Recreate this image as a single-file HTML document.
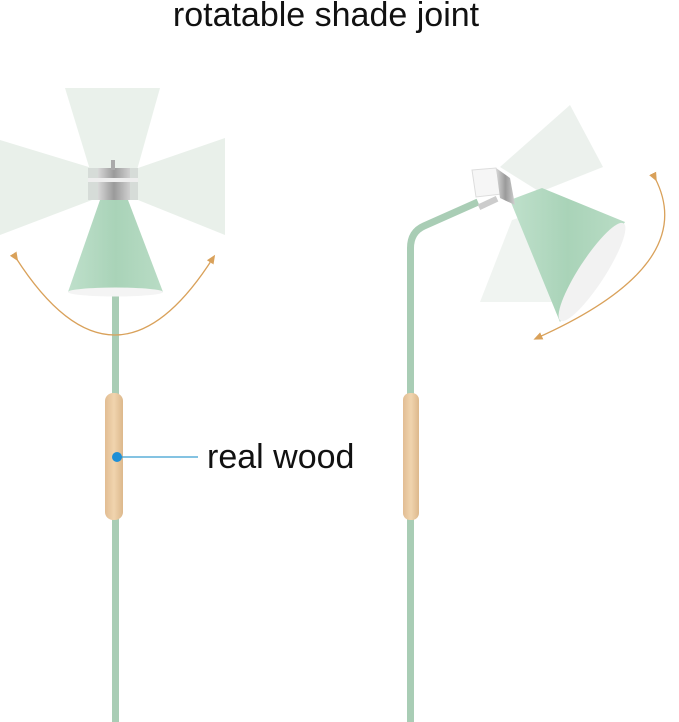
<!DOCTYPE html>
<html><head><style>
html,body{margin:0;padding:0;background:#fff;width:679px;height:722px;overflow:hidden}
svg{display:block}
text{font-family:"Liberation Sans",sans-serif;fill:#111}
</style></head><body>
<svg width="679" height="722" viewBox="0 0 679 722">
<defs>
<marker id="ah" markerWidth="8" markerHeight="8" refX="4" refY="4" orient="auto">
<path d="M0,1 L7,4 L0,7 Z" fill="#d9a15a"/></marker>
<linearGradient id="wood" x1="0" x2="1"><stop offset="0" stop-color="#e2bd93"/><stop offset=".5" stop-color="#f0d4ae"/><stop offset="1" stop-color="#ddb88c"/></linearGradient>
<linearGradient id="green" x1="0" x2="1"><stop offset="0" stop-color="#bfe0cb"/><stop offset=".5" stop-color="#a9d3b8"/><stop offset="1" stop-color="#b9dcc5"/></linearGradient>
<linearGradient id="silver" x1="0" x2="1"><stop offset="0" stop-color="#d8d8d8"/><stop offset=".5" stop-color="#9a9a9a"/><stop offset="1" stop-color="#d0d0d0"/></linearGradient>
</defs>
<text x="326" y="26" font-size="34" text-anchor="middle">rotatable shade joint</text>

<!-- LEFT LAMP -->
<rect x="112" y="290" width="7" height="432" fill="#a9cdb5"/>
<rect x="105" y="393" width="18" height="127" rx="8" fill="url(#wood)"/>
<polygon points="65,88 160,88 137,170 90,170" fill="#e9f0ea" opacity=".95"/>
<polygon points="0,140 92,168 92,200 0,235" fill="#e9f0ea"/>
<polygon points="225,138 138,168 138,200 225,235" fill="#e9f0ea"/>
<rect x="88" y="168" width="50" height="32" fill="#d6dcd8"/>
<rect x="98" y="168" width="32" height="32" fill="url(#silver)"/>
<rect x="88" y="178" width="50" height="4" fill="#eee"/>
<rect x="111" y="160" width="4" height="10" fill="#aaa"/>
<polygon points="100,200 128,200 163,292 68,292" fill="url(#green)"/>
<ellipse cx="115.5" cy="292" rx="47.5" ry="4.5" fill="#f4f4f4"/>
<path d="M16,258 Q115,412 213,258" fill="none" stroke="#d9a15a" stroke-width="1.3" marker-start="url(#ah)" marker-end="url(#ah)"/>
<line x1="117" y1="457" x2="198" y2="457" stroke="#3a9fd0" stroke-width="1.2"/>
<circle cx="117" cy="457" r="5" fill="#1e8fd6"/>
<text x="207" y="468" font-size="34">real wood</text>

<!-- RIGHT LAMP -->
<path d="M410.5,722 L410.5,248 Q410.5,232 424,226 L478,202" fill="none" stroke="#a9cdb5" stroke-width="7"/>
<rect x="403" y="393" width="16" height="127" rx="7" fill="url(#wood)"/>
<polygon points="500,167 570,105 603,167 540,192" fill="#eaf0eb" opacity=".9"/>
<polygon points="512,220 480,302 577,302 542,210" fill="#eef3ef" opacity=".9"/>
<polygon points="510,200 542,188 625,222 560,322" fill="url(#green)"/>
<ellipse cx="592" cy="272" rx="58" ry="13" transform="rotate(-57 592 272)" fill="#f2f2f2"/>
<polygon points="472,170 496,168 502,194 476,197" fill="#f6f6f6" stroke="#ddd"/>
<polygon points="496,168 510,178 515,205 500,198" fill="url(#silver)"/>
<rect x="478" y="200" width="20" height="6" fill="#ccc" transform="rotate(-25 488 203)"/>
<path d="M655,178 Q700,265 537,338" fill="none" stroke="#d9a15a" stroke-width="1.3" marker-start="url(#ah)" marker-end="url(#ah)"/>
</svg>
</body></html>
